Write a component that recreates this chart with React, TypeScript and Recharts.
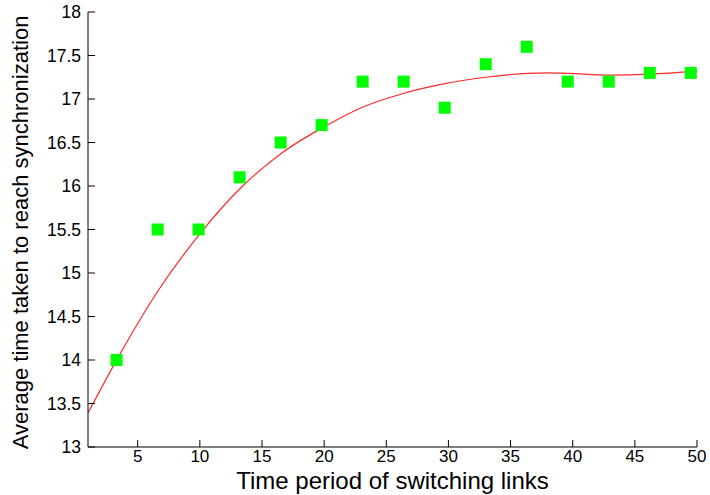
import { ComposedChart, Line, Scatter, XAxis, YAxis, Label } from "recharts";

// measured points (green squares)
const periods = [3.3, 6.6, 9.9, 13.2, 16.5, 19.8, 23.1, 26.4, 29.7, 33, 36.3, 39.6, 42.9, 46.2, 49.5];
const avgTimes = [14.0, 15.5, 15.5, 16.1, 16.5, 16.7, 17.2, 17.2, 16.9, 17.4, 17.6, 17.2, 17.2, 17.3, 17.3];

// fitted curve (red)
const fitX = [1, 3.5, 5, 6.8, 10, 13.3, 16.6, 20, 23, 26.3, 29.5, 33, 36.4, 38, 39.6, 42.9, 46.2, 50];
const fitY = [13.39, 14.05, 14.42, 14.83, 15.45, 15.98, 16.38, 16.68, 16.9, 17.06, 17.17, 17.25, 17.295, 17.3, 17.295, 17.275, 17.285, 17.32];

const xTicks = [5, 10, 15, 20, 25, 30, 35, 40, 45, 50];
const yTicks = [13, 13.5, 14, 14.5, 15, 15.5, 16, 16.5, 17, 17.5, 18];

const points = periods.map((x, i) => ({ x, y: avgTimes[i] }));
const fit = fitX.map((x, i) => ({ x, y: fitY[i] }));

const FONT = "'Liberation Sans', Arial, sans-serif";

function XTick(props: any) {
  const { x, y, payload } = props;
  return (
    <text x={x} y={y} dy="0.72em" textAnchor="middle" fontSize={17} fontFamily={FONT} fill="#000">
      {payload.value}
    </text>
  );
}

function YTick(props: any) {
  const { x, y, payload } = props;
  return (
    <text x={x} y={y} dy="0.36em" textAnchor="end" fontSize={17.5} fontFamily={FONT} fill="#000">
      {payload.value}
    </text>
  );
}

function Square(props: any) {
  const { cx, cy } = props;
  return <rect x={cx - 6} y={cy - 6} width={12} height={12} fill="#00ff00" />;
}

export default function App() {
  return (
    <div style={{ position: "absolute", left: 0, top: 0, background: "#fff" }}>
      <ComposedChart width={710} height={495} margin={{ top: 12, right: 13, bottom: 0, left: 0 }}>
        <XAxis
          xAxisId="bottom"
          dataKey="x"
          type="number"
          domain={[1, 50]}
          ticks={xTicks}
          allowDataOverflow
          height={48}
          tickSize={-7}
          tickMargin={10}
          tick={<XTick />}
          stroke="#000"
        >
          <Label
            value="Time period of switching links"
            position="insideBottom"
            offset={6}
            style={{ fontSize: 24, fontFamily: FONT, fill: "#000" }}
          />
        </XAxis>
        <XAxis
          xAxisId="top"
          orientation="top"
          type="number"
          domain={[1, 50]}
          ticks={xTicks}
          allowDataOverflow
          height={0}
          tickSize={-7}
          tick={false}
          stroke="#000"
        />
        <YAxis
          yAxisId="left"
          dataKey="y"
          type="number"
          domain={[13, 18]}
          ticks={yTicks}
          allowDataOverflow
          width={88}
          tickSize={-7}
          tickMargin={14}
          tick={<YTick />}
          stroke="#000"
        >
          <Label
            value="Average time taken to reach synchronization"
            angle={-90}
            position="insideLeft"
            offset={20}
            dy={3}
            style={{ fontSize: 22, fontFamily: FONT, fill: "#000", textAnchor: "middle" }}
          />
        </YAxis>
        <YAxis
          yAxisId="right"
          orientation="right"
          type="number"
          domain={[13, 18]}
          ticks={yTicks}
          allowDataOverflow
          width={0}
          tickSize={-7}
          tick={false}
          stroke="#000"
        />
        <Line
          xAxisId="bottom"
          yAxisId="left"
          data={fit}
          dataKey="y"
          type="monotone"
          stroke="#ff2a2a"
          strokeWidth={1.2}
          dot={false}
          activeDot={false}
          isAnimationActive={false}
        />
        <Scatter
          xAxisId="bottom"
          yAxisId="left"
          data={points}
          dataKey="y"
          shape={<Square />}
          isAnimationActive={false}
        />
      </ComposedChart>
    </div>
  );
}
